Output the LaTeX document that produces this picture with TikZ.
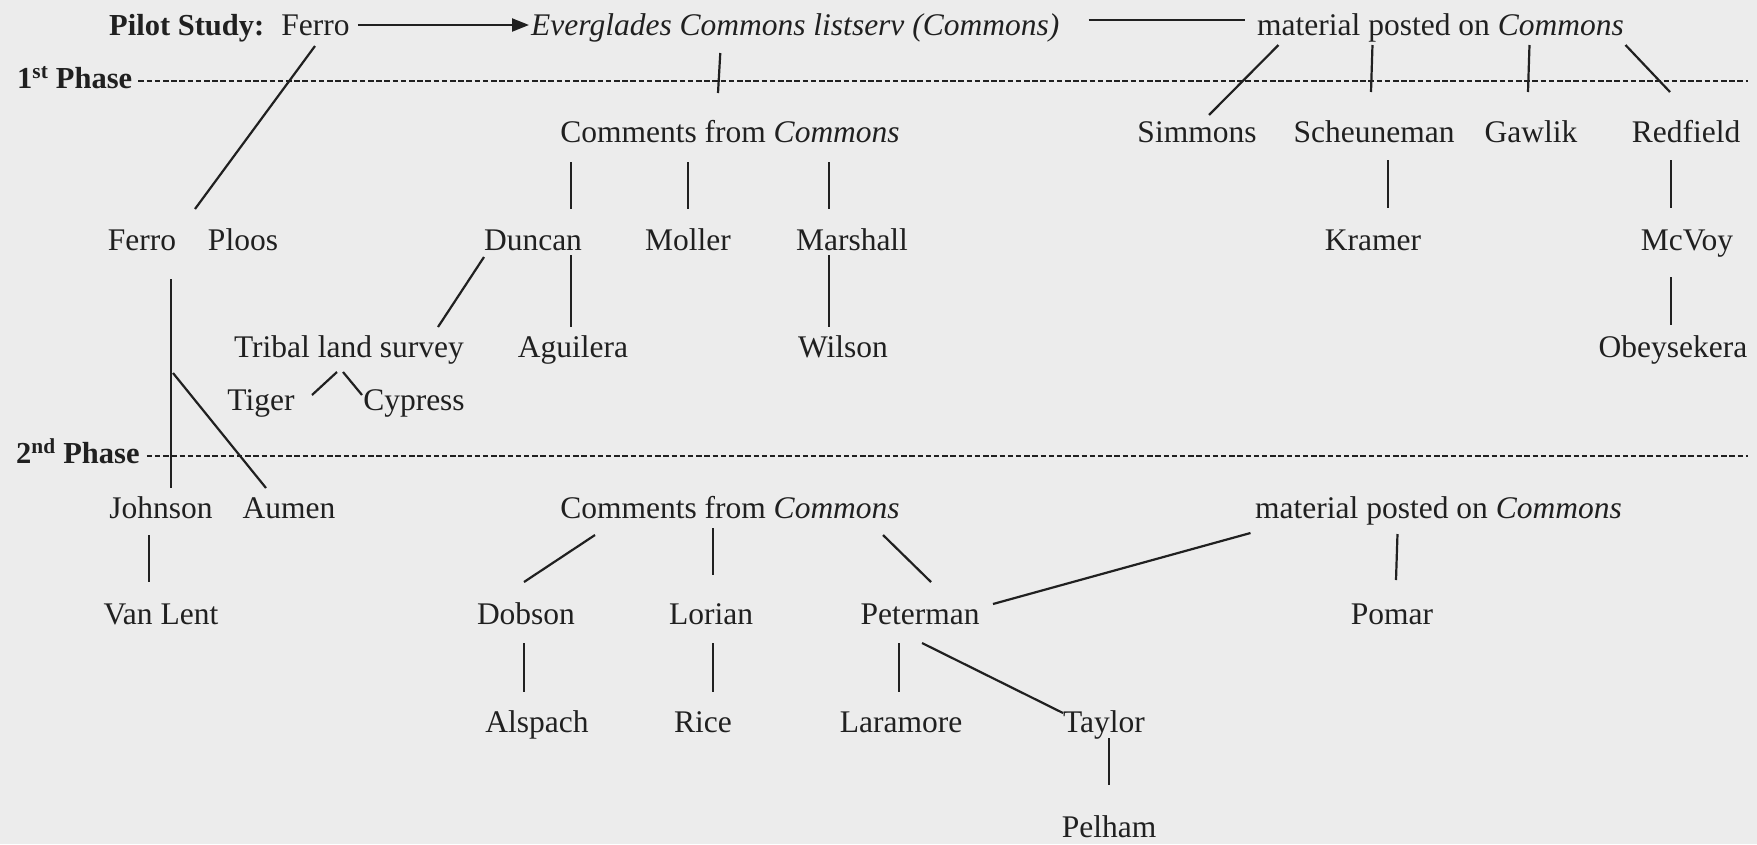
\documentclass[tikz,border=0pt]{standalone}
\usepackage{fontspec}
\setmainfont{Liberation Serif}
\usetikzlibrary{arrows.meta}
\definecolor{paper}{RGB}{236,236,236}
\definecolor{ink}{RGB}{32,32,32}
\tikzset{
  lbl/.style={anchor=base, inner sep=0pt, text=ink, font=\fontsize{31.5}{36}\selectfont},
  boldlbl/.style={lbl, anchor=base west, font=\fontsize{30.5}{36}\selectfont\bfseries},
  link/.style={draw=ink, line width=2.2pt},
  phaseline/.style={draw=ink, line width=2.1pt, dash pattern=on 5.5pt off 2.7pt},
  arr/.style={link, -{Triangle[length=17pt,width=13pt]}},
}
\begin{document}
\begin{tikzpicture}[x=1pt,y=-1pt]
\fill[paper] (0,0) rectangle (1757,844);
\useasboundingbox (0,0) rectangle (1757,844);

% ---- pilot study row
\node[boldlbl] (pilot) at (109,35) {Pilot Study:};
\node[lbl] (ferro0) at (315.5,35) {Ferro};
\node[lbl, anchor=base west] (ecl) at (531,35) {\itshape Everglades Commons listserv (Commons)};
\node[lbl, anchor=base west] (mat1) at (1257,35) {material posted on \textit{Commons}};

% ---- phase markers
\node[boldlbl] (ph1) at (17,88) {1\textsuperscript{st} Phase};
\node[boldlbl] (ph2) at (16,463) {2\textsuperscript{nd} Phase};
\coordinate (ph1end) at (1748,81);
\coordinate (ph2end) at (1748,456);
\draw[phaseline] ([shift={(6,-7)}]ph1.base east) -- (ph1end);
\draw[phaseline] ([shift={(7,-7)}]ph2.base east) -- (ph2end);

% ---- first phase
\node[lbl] (comm1) at (730,142) {Comments from \textit{Commons}};
\node[lbl] (simmons) at (1197,142) {Simmons};
\node[lbl] (scheun) at (1374,142) {Scheuneman};
\node[lbl] (gawlik) at (1531,142) {Gawlik};
\node[lbl] (redfield) at (1686,142) {Redfield};

\node[lbl] (ferro1) at (142,250) {Ferro};
\node[lbl] (ploos) at (243,250) {Ploos};
\node[lbl] (duncan) at (533,250) {Duncan};
\node[lbl] (moller) at (688,250) {Moller};
\node[lbl] (marshall) at (852,250) {Marshall};
\node[lbl] (kramer) at (1373,250) {Kramer};
\node[lbl] (mcvoy) at (1687,250) {McVoy};

\node[lbl] (tribal) at (349,357) {Tribal land survey};
\node[lbl] (aguilera) at (573,357) {Aguilera};
\node[lbl] (wilson) at (843,357) {Wilson};
\node[lbl] (obey) at (1673,357) {Obeysekera};

\node[lbl] (tiger) at (261,410) {Tiger};
\node[lbl] (cypress) at (414,410) {Cypress};

% ---- second phase
\node[lbl] (johnson) at (161,518) {Johnson};
\node[lbl] (aumen) at (289,518) {Aumen};
\node[lbl] (comm2) at (730,518) {Comments from \textit{Commons}};
\node[lbl, anchor=base west] (mat2) at (1255,518) {material posted on \textit{Commons}};

\node[lbl] (vanlent) at (161,624) {Van Lent};
\node[lbl] (dobson) at (526,624) {Dobson};
\node[lbl] (lorian) at (711,624) {Lorian};
\node[lbl] (peterman) at (920,624) {Peterman};
\node[lbl] (pomar) at (1392,624) {Pomar};

\node[lbl] (alspach) at (537,732) {Alspach};
\node[lbl] (rice) at (703,732) {Rice};
\node[lbl] (laramore) at (901,732) {Laramore};
\node[lbl] (taylor) at (1104,732) {Taylor};

\node[lbl] (pelham) at (1109,837) {Pelham};

% ---- connectors
\draw[arr] ([shift={(8,-10)}]ferro0.base east) -- ([shift={(-2,-10)}]ecl.base west);
\draw[link] ([shift={(29,-15)}]ecl.base east) -- ([shift={(-12,-15)}]mat1.base west);
\draw[link] ([shift={(-0.5,11)}]ferro0.base) -- ([shift={(53,-41)}]ferro1.base);
\draw[link] ([shift={(-75,18)}]ecl.base) -- ([shift={(-12,-49)}]comm1.base);

\draw[link] ([shift={(-162,10)}]mat1.base) -- ([shift={(12,-27)}]simmons.base);
\draw[link] ([shift={(-68,10)}]mat1.base) -- ([shift={(-3,-50)}]scheun.base);
\draw[link] ([shift={(89,10)}]mat1.base) -- ([shift={(-3,-50)}]gawlik.base);
\draw[link] ([shift={(185,10)}]mat1.base) -- ([shift={(-16,-50)}]redfield.base);

\draw[link] ([shift={(-159,20)}]comm1.base) -- ([shift={(38,-41)}]duncan.base);
\draw[link] ([shift={(-42,20)}]comm1.base) -- ([shift={(0,-41)}]moller.base);
\draw[link] ([shift={(99,20)}]comm1.base) -- ([shift={(-23,-41)}]marshall.base);
\draw[link] ([shift={(14,18)}]scheun.base) -- ([shift={(15,-42)}]kramer.base);
\draw[link] ([shift={(-15,18)}]redfield.base) -- ([shift={(-16,-42)}]mcvoy.base);

\draw[link] ([shift={(-49,7)}]duncan.base) -- ([shift={(89,-30)}]tribal.base);
\draw[link] ([shift={(38,5)}]duncan.base) -- ([shift={(-2,-30)}]aguilera.base);
\draw[link] ([shift={(-23,5)}]marshall.base) -- ([shift={(-14,-30)}]wilson.base);
\draw[link] ([shift={(-16,27)}]mcvoy.base) -- ([shift={(-2,-32)}]obey.base);

\draw[link] ([shift={(-12,15)}]tribal.base) -- ([shift={(51,-15)}]tiger.base);
\draw[link] ([shift={(-6,15)}]tribal.base) -- ([shift={(-52,-15)}]cypress.base);

\draw[link] ([shift={(29,29)}]ferro1.base) -- ([shift={(10,-30)}]johnson.base);
\draw[link] ([shift={(31,123)}]ferro1.base) -- ([shift={(-23,-30)}]aumen.base);

\draw[link] ([shift={(-12,17)}]johnson.base) -- ([shift={(-12,-42)}]vanlent.base);
\draw[link] ([shift={(-135,17)}]comm2.base) -- ([shift={(-2,-42)}]dobson.base);
\draw[link] ([shift={(-17,10)}]comm2.base) -- ([shift={(2,-49)}]lorian.base);
\draw[link] ([shift={(153,17)}]comm2.base) -- ([shift={(11,-42)}]peterman.base);
\draw[link] ([shift={(-188,15)}]mat2.base) -- ([shift={(73,-20)}]peterman.base);
\draw[link] ([shift={(-41,16)}]mat2.base) -- ([shift={(4,-44)}]pomar.base);

\draw[link] ([shift={(-2,19)}]dobson.base) -- ([shift={(-13,-40)}]alspach.base);
\draw[link] ([shift={(2,19)}]lorian.base) -- ([shift={(10,-40)}]rice.base);
\draw[link] ([shift={(-21,19)}]peterman.base) -- ([shift={(-2,-40)}]laramore.base);
\draw[link] ([shift={(2,19)}]peterman.base) -- ([shift={(-41,-19)}]taylor.base);
\draw[link] ([shift={(5,6)}]taylor.base) -- ([shift={(0,-52)}]pelham.base);
\end{tikzpicture}
\end{document}
